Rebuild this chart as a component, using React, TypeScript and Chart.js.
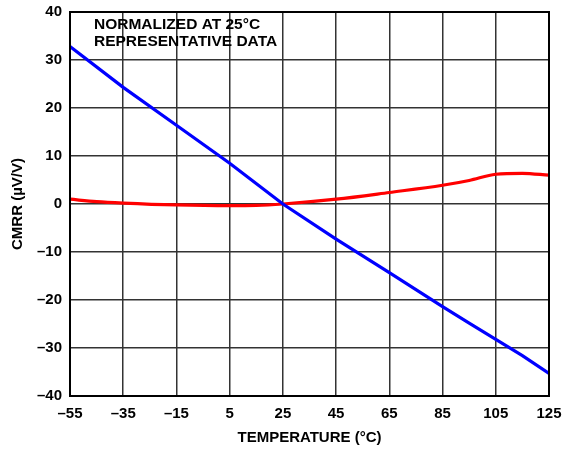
import React, { useEffect, useRef } from "react";
import { Chart, registerables } from "chart.js";

Chart.register(...registerables);

const xTicks = [-55, -35, -15, 5, 25, 45, 65, 85, 105, 125];
const yTicks = [-40, -30, -20, -10, 0, 10, 20, 30, 40];

const blueTemps = [-55, -35, -15, 5, 25, 45, 65, 85, 95, 105, 115, 125];
const blueValues = [32.8, 24.3, 16.4, 8.5, 0, -7.3, -14.3, -21.4, -24.8, -28.2, -31.6, -35.3];

const redTemps = [-55, -45, -35, -15, 5, 15, 25, 45, 65, 85, 95, 105, 115, 125];
const redValues = [1.0, 0.5, 0.2, -0.2, -0.35, -0.3, 0, 1.0, 2.4, 3.9, 4.9, 6.2, 6.4, 6.0];

const noteLines = ["NORMALIZED AT 25°C", "REPRESENTATIVE DATA"];
const xTitle = "TEMPERATURE (°C)";
const yTitle = "CMRR (µV/V)";

const FONT = "'Liberation Sans', Arial, Helvetica, sans-serif";

const fmt = (v: number) => String(v).replace("-", "\u2013");

export default function App() {
  const ref = useRef<HTMLCanvasElement | null>(null);

  useEffect(() => {
    if (!ref.current) return;
    const frame = {
      id: "frame",
      afterDraw(chart: any) {
        const { ctx, chartArea: a } = chart;
        ctx.save();
        ctx.strokeStyle = "#000";
        ctx.lineWidth = 2;
        ctx.strokeRect(a.left, a.top, a.right - a.left, a.bottom - a.top);
        ctx.fillStyle = "#000";
        ctx.font = `bold 15.5px ${FONT}`;
        ctx.textBaseline = "alphabetic";
        ctx.textAlign = "left";
        noteLines.forEach((t, i) => ctx.fillText(t, a.left + 24, a.top + 17 + i * 17));
        ctx.restore();
      },
    };
    const chart = new Chart(ref.current, {
      type: "scatter",
      data: {
        datasets: [
          {
            data: blueTemps.map((x, i) => ({ x, y: blueValues[i] })),
            showLine: true,
            borderColor: "#0000ff",
            borderWidth: 3.2,
            pointRadius: 0,
            tension: 0,
          },
          {
            data: redTemps.map((x, i) => ({ x, y: redValues[i] })),
            showLine: true,
            borderColor: "#ff0000",
            borderWidth: 3.2,
            pointRadius: 0,
            cubicInterpolationMode: "monotone",
          },
        ],
      },
      options: {
        responsive: false,
        animation: false,
        layout: { padding: { left: 0, top: 12, right: 14, bottom: 0 } },
        plugins: { legend: { display: false }, tooltip: { enabled: false } },
        scales: {
          x: {
            type: "linear",
            min: -55,
            max: 125,
            afterBuildTicks: (s: any) => {
              s.ticks = xTicks.map((v) => ({ value: v }));
            },
            afterFit: (s: any) => {
              s.height = 57;
              s.paddingLeft = 0;
              s.paddingRight = 0;
            },
            grid: { color: "#333", lineWidth: 1.5, drawTicks: false },
            border: { display: false },
            ticks: {
              padding: 9,
              color: "#000",
              font: { family: FONT, size: 15, weight: "bold" },
              callback: (v: any) => fmt(v),
              maxRotation: 0,
              autoSkip: false,
            },
            title: {
              display: true,
              text: xTitle,
              color: "#000",
              font: { family: FONT, size: 15, weight: "bold" },
              padding: { top: 0, bottom: 6 },
            },
          },
          y: {
            type: "linear",
            min: -40,
            max: 40,
            afterBuildTicks: (s: any) => {
              s.ticks = yTicks.map((v) => ({ value: v }));
            },
            afterFit: (s: any) => {
              s.width = 70;
              s.paddingTop = 0;
              s.paddingBottom = 0;
            },
            grid: { color: "#333", lineWidth: 1.5, drawTicks: false },
            border: { display: false },
            ticks: {
              padding: 8,
              color: "#000",
              font: { family: FONT, size: 15, weight: "bold" },
              callback: (v: any) => fmt(v),
              autoSkip: false,
            },
            title: {
              display: true,
              text: yTitle,
              color: "#000",
              font: { family: FONT, size: 15, weight: "bold" },
              padding: { top: 9, bottom: 0 },
            },
          },
        },
      },
      plugins: [frame],
    } as any);
    return () => chart.destroy();
  }, []);

  return (
    <div style={{ position: "fixed", left: 0, top: 0, width: 563, height: 453, background: "#fff" }}>
      <canvas ref={ref} width={563} height={453} />
    </div>
  );
}
